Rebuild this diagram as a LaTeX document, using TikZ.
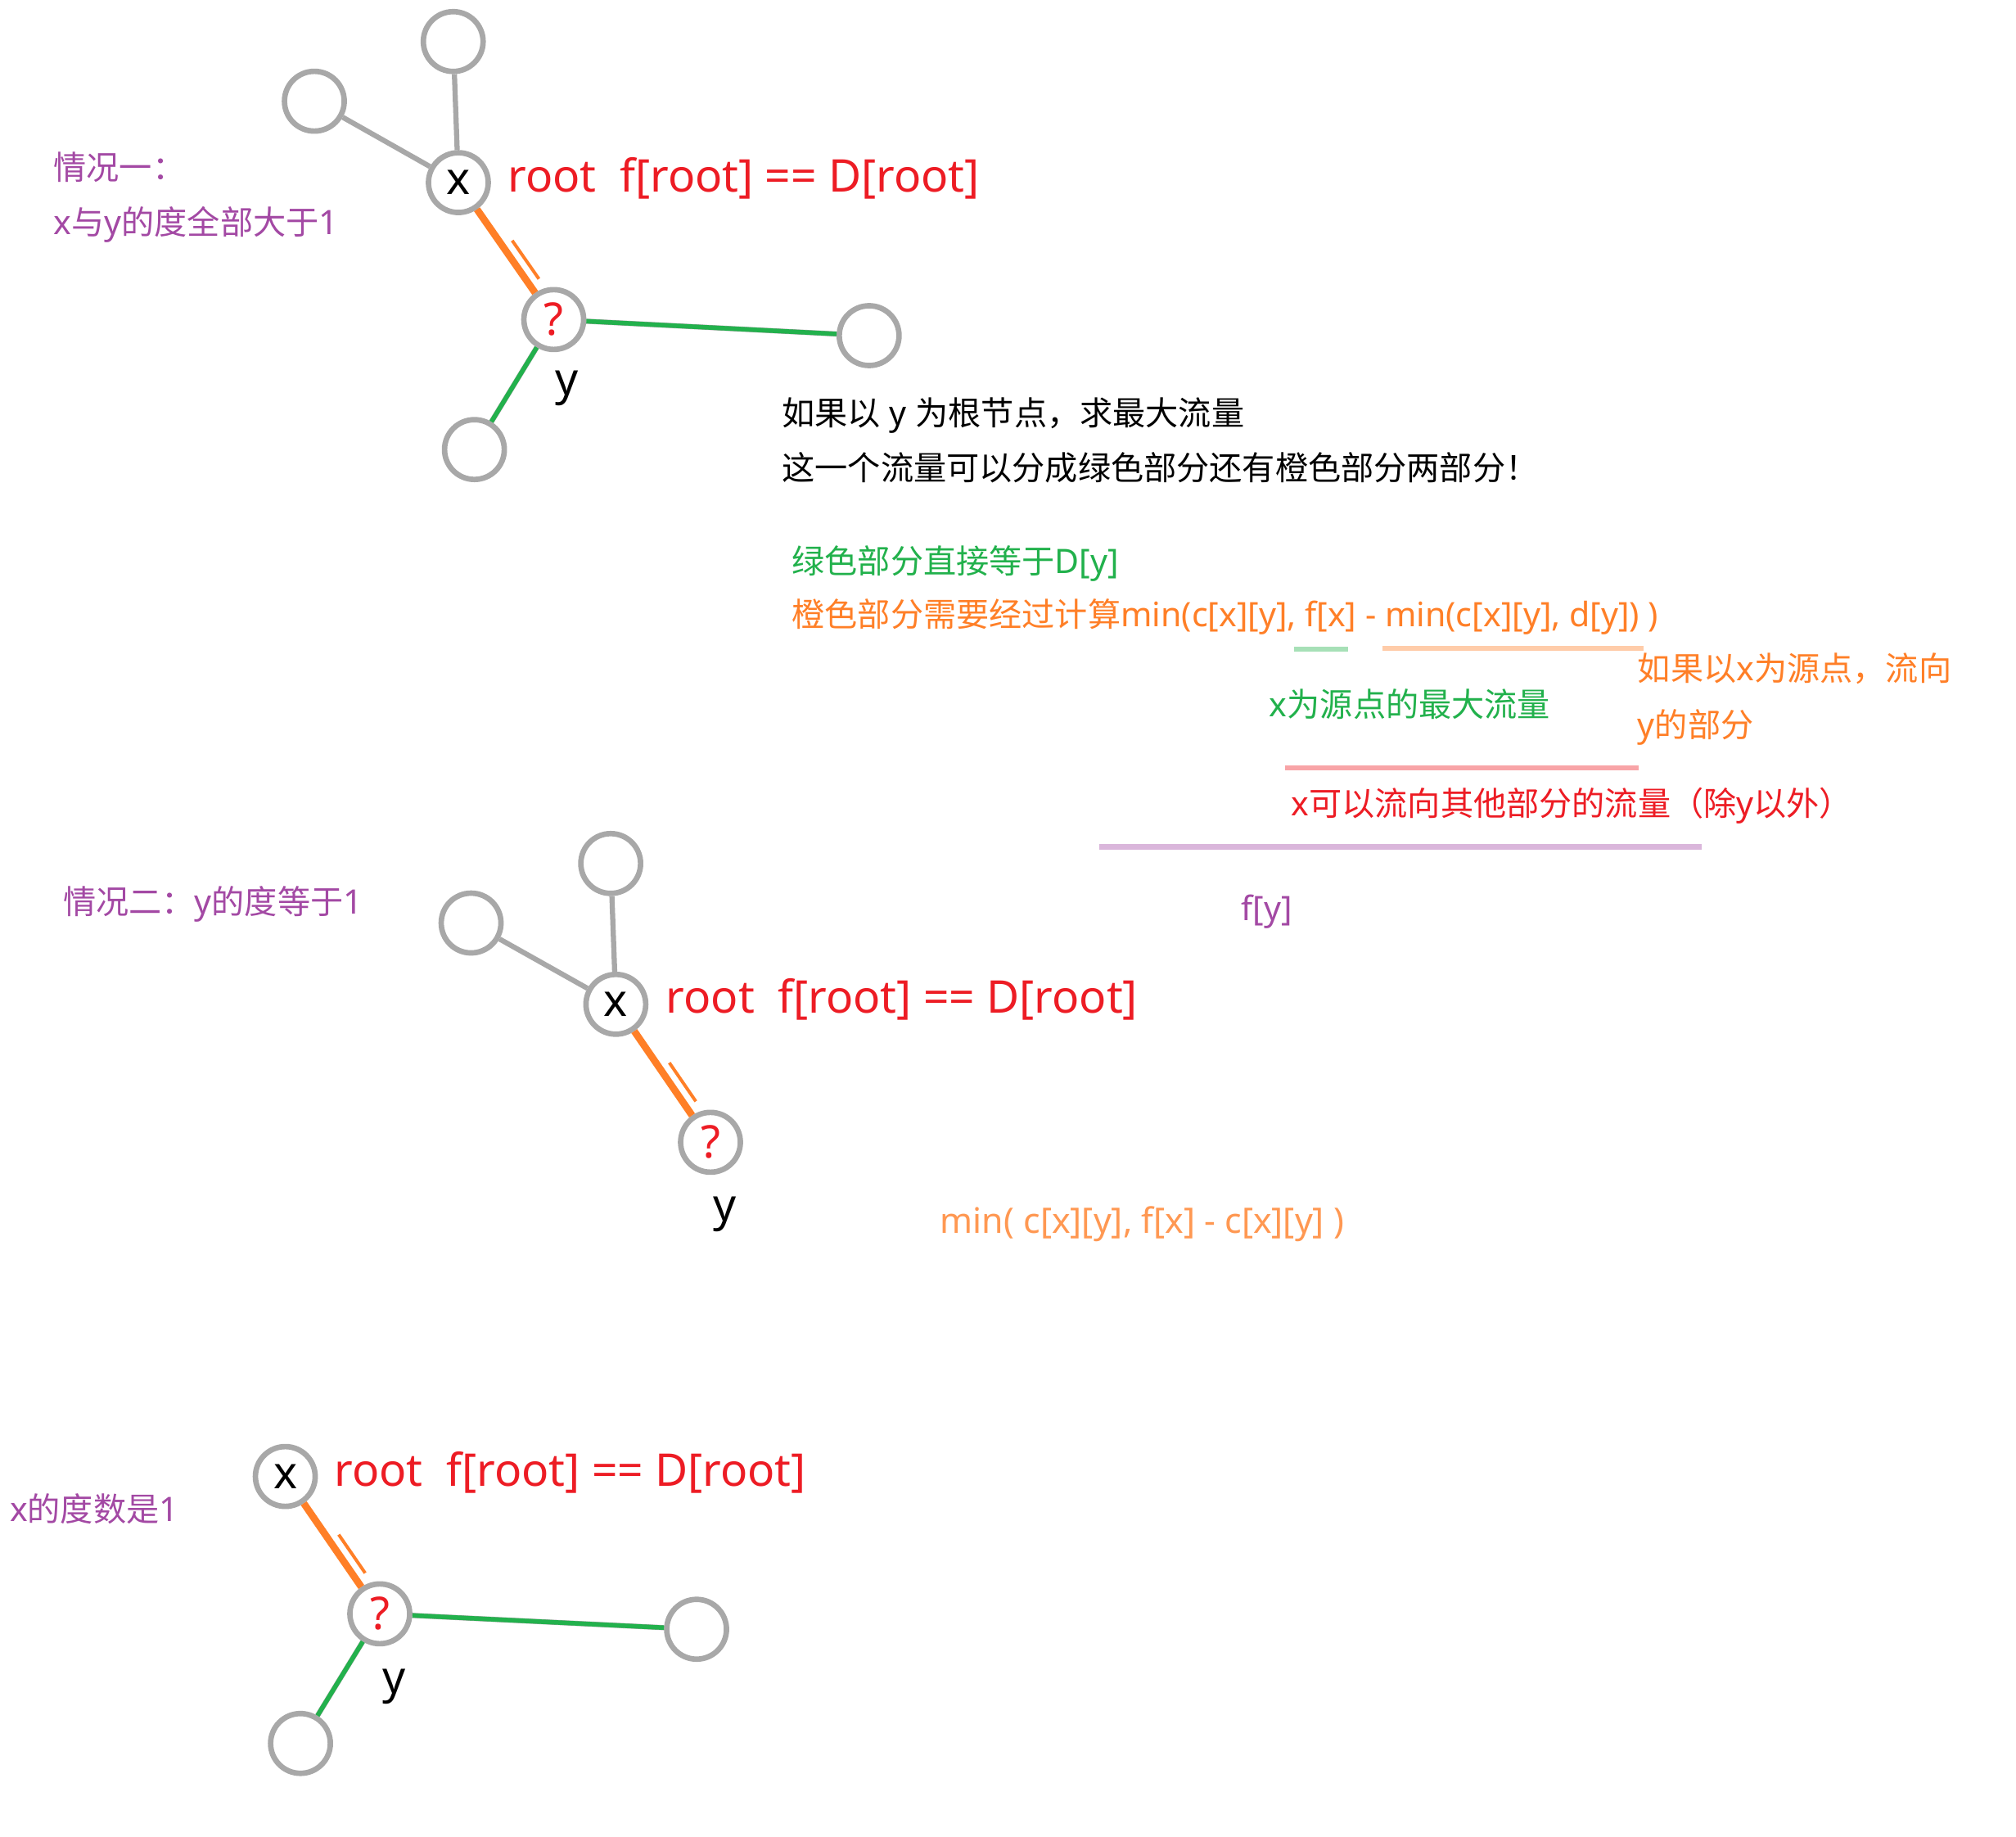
\documentclass[tikz,border=0pt]{standalone}
\usepackage{fontspec}
\setmainfont{Noto Sans}[Scale=1.05]
\newfontfamily\cjkfont{Noto Sans CJK SC}[Scale=1.025]
\usetikzlibrary{calc}

% Chinese characters are set in the CJK font
\XeTeXinterchartokenstate=1
\newXeTeXintercharclass\cjkclass
\newcount\cjkcode
\newcommand\cjkrange[2]{%
  \cjkcode=#1\relax
  \loop\XeTeXcharclass\cjkcode=\cjkclass
  \ifnum\cjkcode<#2\relax\advance\cjkcode by 1\repeat}
\cjkrange{"3000}{"303F}
\cjkrange{"4E00}{"9FFF}
\cjkrange{"FF00}{"FFEF}
\XeTeXinterchartoks 0 \cjkclass = {\begingroup\cjkfont}
\XeTeXinterchartoks 4095 \cjkclass = {\begingroup\cjkfont}
\XeTeXinterchartoks \cjkclass 0 = {\endgroup}
\XeTeXinterchartoks \cjkclass 4095 = {\endgroup}

\definecolor{casepurple}{HTML}{A349A4}
\definecolor{rootred}{HTML}{ED1C24}
\definecolor{flowgreen}{HTML}{22B14C}
\definecolor{floworange}{HTML}{FF7F27}
\definecolor{nodegray}{HTML}{A8A8A8}

\tikzset{
    vtx/.style = {
        circle, draw=nodegray, line width=0.085cm,
        minimum size=0.93cm, inner sep=0pt,
        font=\fontsize{19pt}{22pt}\selectfont
    },
    qvtx/.style    = {vtx, text=rootred},
    treeedge/.style = {draw=nodegray, line width=0.08cm},
    gpart/.style   = {draw=flowgreen, line width=0.07cm},
    opart/.style   = {draw=floworange, line width=0.11cm},
    othin/.style   = {draw=floworange, line width=0.05cm},
    rootlbl/.style = {anchor=base west, inner sep=0pt, text=rootred,
        font=\fontsize{19pt}{22pt}\selectfont},
    ylbl/.style    = {anchor=base, inner sep=0pt,
        font=\fontsize{19pt}{22pt}\selectfont},
    note/.style    = {anchor=west, inner sep=0pt, align=left,
        font=\fontsize{14.2pt}{24.4pt}\selectfont},
    hilite/.style  = {line width=0.08cm}
}

\begin{document}
\begin{tikzpicture}[x=0.02cm, y=-0.02cm]
  \useasboundingbox (0,0) rectangle (1568,1428);
  \fill [white] (0,0) rectangle (1568,1428);

  % case 1
  \node [note, text=casepurple] (case1) at (41.4,153.3)
        {情况一：\\x与y的度全部大于1};
  \node [vtx] (a-top) at (352.5,32.3) {};
  \node [vtx] (a-left) at (244.5,78.7) {};
  \node [vtx] (a-x) at (356.5,142) {x};
  \node [qvtx] (a-q) at (430.7,248.5) {?};
  \node [vtx] (a-right) at (676,261) {};
  \node [vtx] (a-bot) at (369,349.6) {};
  \node [ylbl] (a-y) at (441,307) {y};
  \node [rootlbl] (a-root) at (394.7,149) {root\ \ f[root] == D[root]};

  \path [treeedge] (a-x) -- (a-top);
  \path [treeedge] (a-x) -- (a-left);
  \path [treeedge] (a-x) -- (a-q);
  \path [treeedge] (a-q) -- (a-right);
  \path [treeedge] (a-q) -- (a-bot);
  \path [opart] (a-x) -- (a-q);
  \path [othin] ($(a-x)!0.47!(a-q)+(7,-5)$) -- ($(a-x)!0.75!(a-q)+(7,-5)$);
  \path [gpart] (a-q) -- (a-right);
  \path [gpart] (a-q) -- (a-bot);

  % explanation
  \node [note] (ask) at (608,342.4)
        {如果以 y 为根节点，求最大流量\\这一个流量可以分成绿色部分还有橙色部分两部分！};
  \node [note, text=flowgreen] (green) at (615.6,438.5) {绿色部分直接等于D[y]};
  \node [note, text=floworange] (orange) at (615.6,479.5)
        {橙色部分需要经过计算min(c[x][y], f[x] - min(c[x][y], d[y]) )};
  \draw [hilite, flowgreen!40] (1006.5,505) -- (1048.6,505);
  \draw [hilite, floworange!40] (1075.5,504) -- (1278.5,504);
  \node [note, text=floworange, font=\fontsize{14.2pt}{24.8pt}\selectfont]
        (src) at (1273.5,543.8) {如果以x为源点，流向\\y的部分};
  \node [note, text=flowgreen] (maxf) at (987,547.7) {x为源点的最大流量};
  \draw [hilite, rootred!40] (999.5,597) -- (1274.5,597);
  \node [note, text=rootred] (other) at (1004,626.4) {x可以流向其他部分的流量（除y以外）};
  \draw [hilite, casepurple!40] (855,658.5) -- (1323.5,658.5);
  \node [note, text=casepurple] (fy) at (965,709) {f[y]};

  % case 2
  \node [note, text=casepurple] (case2) at (48.7,703) {情况二：y的度等于1};
  \node [vtx] (b-top) at (475,671.5) {};
  \node [vtx] (b-left) at (366.4,717.8) {};
  \node [vtx] (b-x) at (479,781) {x};
  \node [qvtx] (b-q) at (552.6,888.3) {?};
  \node [ylbl] (b-y) at (563.5,949.7) {y};
  \node [rootlbl] (b-root) at (517.7,788) {root\ \ f[root] == D[root]};
  \node [note, text=floworange!80!white, font=\fontsize{14.8pt}{18pt}\selectfont]
        (bmin) at (731,952) {min( c[x][y], f[x] - c[x][y] )};

  \path [treeedge] (b-x) -- (b-top);
  \path [treeedge] (b-x) -- (b-left);
  \path [treeedge] (b-x) -- (b-q);
  \path [opart] (b-x) -- (b-q);
  \path [othin] ($(b-x)!0.47!(b-q)+(7,-5)$) -- ($(b-x)!0.75!(b-q)+(7,-5)$);

  % case 3
  \node [note, text=casepurple] (case3) at (7.3,1173.7) {x的度数是1};
  \node [vtx] (c-x) at (221.9,1148.2) {x};
  \node [qvtx] (c-q) at (295.4,1255) {?};
  \node [vtx] (c-right) at (541.8,1267) {};
  \node [vtx] (c-bot) at (233.7,1355.8) {};
  \node [ylbl] (c-y) at (306.5,1317) {y};
  \node [rootlbl] (c-root) at (259.8,1155.5) {root\ \ f[root] == D[root]};

  \path [treeedge] (c-x) -- (c-q);
  \path [treeedge] (c-q) -- (c-right);
  \path [treeedge] (c-q) -- (c-bot);
  \path [opart] (c-x) -- (c-q);
  \path [othin] ($(c-x)!0.47!(c-q)+(7,-5)$) -- ($(c-x)!0.75!(c-q)+(7,-5)$);
  \path [gpart] (c-q) -- (c-right);
  \path [gpart] (c-q) -- (c-bot);
\end{tikzpicture}
\end{document}
